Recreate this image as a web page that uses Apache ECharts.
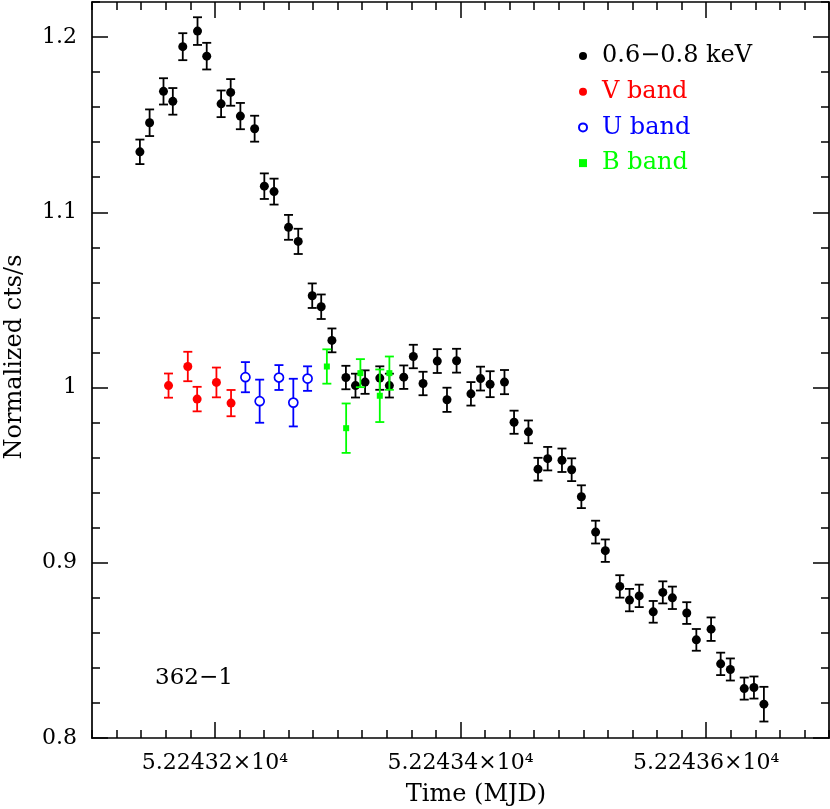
<!DOCTYPE html>
<html><head><meta charset="utf-8">
<script src="https://cdn.jsdelivr.net/npm/echarts@6/dist/echarts.min.js"></script>
<style>html,body{margin:0;padding:0;background:#fff}#c{width:830px;height:809px}</style>
</head><body><div id="c"></div>
<script>
// ---- data (MJD, normalized rate, 1-sigma error) ----
const xrayTime = [52243.1390, 52243.1469, 52243.1582, 52243.1658, 52243.1739, 52243.1859, 52243.1934, 52243.2051, 52243.2129, 52243.2208,
  52243.2324, 52243.2403, 52243.2482, 52243.2600, 52243.2679, 52243.2793, 52243.2866, 52243.2953, 52243.3067, 52243.3145,
  52243.3223, 52243.3343, 52243.3421, 52243.3538, 52243.3616, 52243.3695, 52243.3811, 52243.3890, 52243.3968, 52243.4085,
  52243.4163, 52243.4241, 52243.4358, 52243.4436, 52243.4553, 52243.4631, 52243.4710, 52243.4826, 52243.4905, 52243.4984,
  52243.5100, 52243.5179, 52243.5297, 52243.5376, 52243.5455, 52243.5569, 52243.5647, 52243.5725, 52243.5842, 52243.5920,
  52243.6040, 52243.6118, 52243.6197, 52243.6310, 52243.6389, 52243.6470];
const xrayRate = [1.1345, 1.1511, 1.1690, 1.1633, 1.1945, 1.2034, 1.1891, 1.1619, 1.1684, 1.1549,
  1.1477, 1.1149, 1.1118, 1.0914, 1.0834, 1.0524, 1.0461, 1.0269, 1.0057, 1.0011,
  1.0031, 1.0054, 1.0011, 1.0059, 1.0177, 1.0023, 1.0151, 0.9930, 1.0153, 0.9964,
  1.0051, 1.0019, 1.0031, 0.9802, 0.9747, 0.9534, 0.9594, 0.9585, 0.9531, 0.9377,
  0.9175, 0.9069, 0.8865, 0.8787, 0.8811, 0.8720, 0.8831, 0.8800, 0.8713, 0.8560,
  0.8621, 0.8423, 0.8391, 0.8282, 0.8288, 0.8193];
const xrayErr = [0.0070, 0.0076, 0.0075, 0.0076, 0.0077, 0.0079, 0.0076, 0.0076, 0.0076, 0.0075,
  0.0074, 0.0073, 0.0074, 0.0071, 0.0072, 0.0070, 0.0070, 0.0068, 0.0067, 0.0068,
  0.0067, 0.0067, 0.0068, 0.0067, 0.0067, 0.0067, 0.0068, 0.0069, 0.0068, 0.0067,
  0.0068, 0.0074, 0.0069, 0.0066, 0.0065, 0.0065, 0.0067, 0.0067, 0.0065, 0.0065,
  0.0065, 0.0064, 0.0064, 0.0064, 0.0064, 0.0062, 0.0063, 0.0064, 0.0062, 0.0062,
  0.0067, 0.0064, 0.0063, 0.0063, 0.0063, 0.0099];

const vTime = [52243.1623, 52243.1780, 52243.1856, 52243.2013, 52243.2132];
const vRate = [1.0011, 1.0120, 0.9934, 1.0029, 0.9911];
const vErr  = [0.0069, 0.0084, 0.0070, 0.0085, 0.0075];

const uTime = [52243.2249, 52243.2365, 52243.2522, 52243.2639, 52243.2755];
const uRate = [1.0059, 0.9922, 1.0057, 0.9914, 1.0051];
const uErr  = [0.0086, 0.0123, 0.0071, 0.0136, 0.0070];

const bTime = [52243.2912, 52243.3069, 52243.3185, 52243.3343, 52243.3421];
const bRate = [1.0120, 0.9768, 1.0082, 0.9953, 1.0082];
const bErr  = [0.0098, 0.0141, 0.0080, 0.0150, 0.0095];

const seriesNames = ['0.6\u22120.8 keV', 'V band', 'U band', 'B band'];
const xMajorTicks = [52243.2, 52243.4, 52243.6];
const yMajorTicks = [0.8, 0.9, 1.0, 1.1, 1.2];
const xRange = [52243.1, 52243.7];
const yRange = [0.8, 1.22];
const minorStep = 0.02;
const fieldLabel = '362\u22121';

// ---- chart ----
const FONT = 'DejaVu Serif';
const BLACK = '#000', RED = '#ff0000', BLUE = '#0000ff', GREEN = '#00ff00';
const zip = (a, b, c) => a.map((v, i) => [v, b[i], c[i]]);

function errBars(color) {
  return function (params, api) {
    const x = api.value(0), y = api.value(1), e = api.value(2);
    const t = api.coord([x, y + e]), b = api.coord([x, y - e]);
    const h = 4.5, st = { stroke: color, lineWidth: 1.8 };
    return { type: 'group', children: [
      { type: 'line', shape: { x1: t[0], y1: t[1], x2: b[0], y2: b[1] }, style: st },
      { type: 'line', shape: { x1: t[0] - h, y1: t[1], x2: t[0] + h, y2: t[1] }, style: st },
      { type: 'line', shape: { x1: b[0] - h, y1: b[1], x2: b[0] + h, y2: b[1] }, style: st }
    ]};
  };
}

const lineStyle = { color: BLACK, width: 1.7 };
function xAx(pos, major, labels) {
  const a = { type: 'value', position: pos, min: xRange[0], max: xRange[1], gridIndex: 0,
    axisLine: { show: major, onZero: false, lineStyle },
    splitLine: { show: false },
    axisTick: { show: true, inside: true, length: major ? 16 : 8, lineStyle: { color: BLACK, width: 1.5 } },
    axisLabel: { show: false } };
  if (major) {
    a.axisTick.customValues = xMajorTicks;
    a.axisLabel = { show: labels, customValues: xMajorTicks, margin: 14,
      fontFamily: FONT, fontSize: 22, color: BLACK,
      formatter: v => (v / 1e4).toFixed(5) + '\u00d710\u2074' };
  } else {
    a.interval = minorStep;
  }
  return a;
}
function yAx(pos, major, labels) {
  const a = { type: 'value', position: pos, min: yRange[0], max: yRange[1], gridIndex: 0,
    axisLine: { show: major, onZero: false, lineStyle },
    splitLine: { show: false },
    axisTick: { show: true, inside: true, length: major ? 16 : 8, lineStyle: { color: BLACK, width: 1.5 } },
    axisLabel: { show: false } };
  if (major) {
    a.axisTick.customValues = yMajorTicks;
    a.axisLabel = { show: labels, customValues: yMajorTicks, margin: 15,
      fontFamily: FONT, fontSize: 22, color: BLACK,
      formatter: v => String(+(+v).toFixed(1)) };
  } else {
    a.interval = minorStep;
  }
  return a;
}

const chart = echarts.init(document.getElementById('c'), null, { renderer: 'canvas' });
chart.setOption({
  animation: false,
  backgroundColor: '#fff',
  grid: { left: 92, top: 2, width: 737, height: 736, containLabel: false },
  xAxis: [xAx('bottom', true, true), xAx('bottom', false), xAx('top', true, false), xAx('top', false)],
  yAxis: [yAx('left', true, true), yAx('left', false), yAx('right', true, false), yAx('right', false)],
  legend: {
    orient: 'vertical', left: 578, top: 44, padding: 0, itemWidth: 8, itemHeight: 8, itemGap: 11.7,
    selectedMode: false,
    textStyle: { fontFamily: FONT, fontSize: 24, lineHeight: 24, padding: [0, 0, 0, 10] },
    data: [
      { name: seriesNames[0], icon: 'circle', textStyle: { color: BLACK } },
      { name: seriesNames[1], icon: 'circle', textStyle: { color: RED } },
      { name: seriesNames[2], icon: 'circle', textStyle: { color: BLUE } },
      { name: seriesNames[3], icon: 'rect', textStyle: { color: GREEN } }
    ]
  },
  graphic: [
    { type: 'text', x: 476, y: 795, style: { text: 'Time (MJD)', font: '24px "DejaVu Serif"', fill: BLACK, textAlign: 'center', textVerticalAlign: 'middle' } },
    { type: 'text', rotation: Math.PI / 2, x: 15, y: 357, style: { text: 'Normalized cts/s', font: '24px "DejaVu Serif"', fill: BLACK, textAlign: 'center', textVerticalAlign: 'middle' } },
    { type: 'text', x: 155, y: 678, style: { text: fieldLabel, font: '23px "DejaVu Serif"', fill: BLACK, textAlign: 'left', textVerticalAlign: 'middle' } }
  ],
  series: [
    { type: 'custom', renderItem: errBars(BLACK), data: zip(xrayTime, xrayRate, xrayErr), encode: { x: 0, y: 1 }, z: 2, silent: true },
    { name: seriesNames[0], type: 'scatter', symbol: 'circle', symbolSize: 9, itemStyle: { color: BLACK, opacity: 1 }, data: zip(xrayTime, xrayRate, xrayErr), z: 3 },
    { type: 'custom', renderItem: errBars(RED), data: zip(vTime, vRate, vErr), encode: { x: 0, y: 1 }, z: 2, silent: true },
    { name: seriesNames[1], type: 'scatter', symbol: 'circle', symbolSize: 9, itemStyle: { color: RED, opacity: 1 }, data: zip(vTime, vRate, vErr), z: 3 },
    { type: 'custom', renderItem: errBars(BLUE), data: zip(uTime, uRate, uErr), encode: { x: 0, y: 1 }, z: 2, silent: true },
    { name: seriesNames[2], type: 'scatter', symbol: 'circle', symbolSize: 9, itemStyle: { color: '#fff', borderColor: BLUE, borderWidth: 1.7, opacity: 1 }, data: zip(uTime, uRate, uErr), z: 3 },
    { type: 'custom', renderItem: errBars(GREEN), data: zip(bTime, bRate, bErr), encode: { x: 0, y: 1 }, z: 4, silent: true },
    { name: seriesNames[3], type: 'scatter', symbol: 'rect', symbolSize: 6, itemStyle: { color: GREEN, opacity: 1 }, data: zip(bTime, bRate, bErr), z: 5 }
  ]
});
</script></body></html>
